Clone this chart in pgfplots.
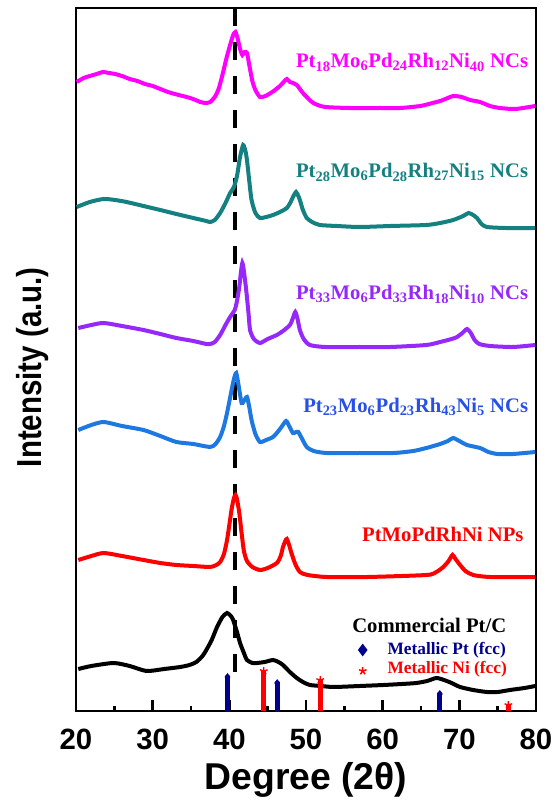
\documentclass[border=0pt]{standalone}
\usepackage{fontspec}
\setmainfont{Liberation Serif}
\setsansfont{Liberation Sans}
\usepackage{pgfplots}
\pgfplotsset{compat=1.18}
\definecolor{magC}{RGB}{255,0,255}
\definecolor{tealC}{RGB}{20,128,128}
\definecolor{purC}{RGB}{150,40,250}
\definecolor{bluC}{RGB}{30,120,225}
\definecolor{bluL}{RGB}{40,80,230}
\definecolor{navyC}{RGB}{0,0,140}
\definecolor{redC}{RGB}{255,0,0}
\tikzset{lbl/.style={inner sep=0pt, font=\fontsize{15.5}{18}\selectfont\bfseries},
  leg/.style={inner sep=0pt, font=\fontsize{13}{15}\selectfont\bfseries}}
\begin{document}
\begin{tikzpicture}
\begin{axis}[
  name=ax,
  width=345pt, height=527.25pt, scale only axis,
  xmin=20, xmax=80, ymin=0, ymax=703,
  xtick={20,30,...,80}, minor xtick={25,35,...,75},
  ytick=\empty,
  xtick pos=lower, tick align=inside,
  major tick length=8pt, minor tick length=4pt,
  tick style={black, line width=2pt},
  axis line style={line width=2.2pt},
  /pgf/number format/assume math mode=true,
  tick label style={font=\sffamily\bfseries\fontsize{22}{22}\selectfont},
  xticklabel style={yshift=-10pt},
  xlabel={\sffamily\bfseries\fontsize{28}{28}\selectfont Degree (2θ)},
  xlabel style={at={(axis description cs:0.5,0)}, anchor=base, yshift=-59pt},
  ylabel={\sffamily\bfseries\fontsize{26}{26}\selectfont\scalebox{0.85}[1]{Intensity (a.u.)}},
  ylabel style={at={(axis description cs:-0.0935,0.489)}, anchor=center},
  every axis plot/.append style={line width=3pt, smooth, tension=0.4},
]
% reference dashed line
\addplot[black, line width=3pt, dash pattern=on 13.5pt off 12pt, sharp plot]
  coordinates {(40.7,703) (40.7,24)};
% Pt18Mo6Pd24Rh12Ni40
\addplot[magC] coordinates {
(20.1,629)(21.0,633)(21.8,635)(22.7,637)(23.5,639)(24.3,638)(25.1,637)(26.0,635)
(27.0,632)(28.0,630)(29.0,627)(30.0,625)(31.0,622)(32.0,619)(32.9,617)(33.9,615)
(34.9,613)(35.6,611)(36.2,609)(36.9,608)(37.5,609)(38.1,614)(38.6,622)(39.1,636)
(39.6,652)(40.1,666)(40.5,676)(40.8,679)(41.1,672)(41.4,662)(41.7,656)(42.0,659)
(42.3,658)(42.6,646)(43.0,630)(43.4,621)(44.0,614)(44.7,615)(45.6,619)(46.6,625)
(47.2,630)(47.5,632)(47.9,629)(48.3,628)(48.8,626)(49.2,622)(49.7,617)(50.1,614)
(50.6,610)(51.2,607)(52.5,604)(55.7,603)(59.7,603)(62.3,603)(64.9,605)(66.5,608)
(67.5,610)(68.5,613)(69.2,615)(70.3,614)(71.4,611)(72.7,609)(74.0,605)(75.3,603)
(77.3,602)(79.9,605)};
% Pt28Mo6Pd28Rh27Ni15
\addplot[tealC] coordinates {
(20.1,504)(21.8,509)(23.6,512)(25.1,511)(26.6,509)(28.8,505)(31.0,501)(33.1,497)
(35.3,493)(37.0,490)(37.5,489)(38.1,491)(38.8,498)(39.5,508)(40.1,518)(40.6,524)
(41.0,535)(41.4,554)(41.8,566)(42.1,560)(42.3,551)(42.6,530)(42.9,511)(43.4,498)
(44.0,493)(44.8,494)(45.7,496)(46.6,499)(47.5,503)(48.0,509)(48.3,514)(48.7,519)
(49.0,515)(49.2,511)(49.6,501)(50.1,493)(50.8,489)(51.8,486)(54.0,485)(57.0,484)
(61.0,485)(65.7,486)(67.5,488)(69.2,491)(70.5,495)(71.2,498)(71.8,496)(72.3,493)
(72.9,487)(73.6,484)(76.0,483)(79.9,483)};
% Pt33Mo6Pd33Rh18Ni10
\addplot[purC] coordinates {
(20.3,383)(22.0,386)(23.6,388)(26.0,385)(28.8,381)(31.0,377)(33.1,373)(35.3,370)
(37.0,367)(37.5,367)(38.1,369)(38.8,376)(39.5,386)(40.1,394)(40.7,401)(41.0,410)
(41.3,424)(41.5,438)(41.7,448)(41.9,440)(42.2,421)(42.5,398)(42.7,381)(43.2,372)
(44.0,368)(45.0,372)(46.2,376)(47.0,380)(47.9,386)(48.3,393)(48.6,399)(48.9,392)
(49.2,381)(49.7,372)(50.5,366)(52.5,364)(57.0,364)(61.0,364)(65.7,366)(67.5,369)
(69.0,372)(69.7,374)(70.4,378)(71.0,382)(71.5,378)(72.0,371)(72.6,367)(74.0,365)
(77.0,364)(79.9,366)};
% Pt23Mo6Pd23Rh43Ni5
\addplot[bluC] coordinates {
(20.3,281)(22.0,286)(23.6,289)(26.0,285)(28.8,281)(31.0,275)(33.1,269)(35.3,267)
(37.5,264)(38.2,267)(38.8,274)(39.3,285)(39.7,298)(40.3,321)(40.6,332)(40.9,338)
(41.2,326)(41.6,308)(41.9,310)(42.3,314)(42.6,304)(42.9,291)(43.4,277)(44.0,269)
(44.8,271)(45.7,274)(46.3,279)(46.8,284)(47.4,290)(47.8,285)(48.3,278)(48.7,279)
(49.0,279)(49.5,272)(50.1,264)(51.0,260)(52.7,258)(57.0,258)(61.4,258)(64.0,260)
(65.7,263)(67.5,267)(68.5,270)(69.2,273)(70.0,270)(71.0,266)(72.7,263)(73.8,259)
(75.0,257)(77.0,257)(79.9,259)};
% PtMoPdRhNi NPs
\addplot[redC] coordinates {
(20.3,151)(22.0,155)(23.6,158)(26.0,155)(28.8,151)(31.0,148)(33.1,146)(35.3,145)
(37.5,144)(38.3,146)(38.8,149)(39.3,157)(39.7,171)(40.0,186)(40.3,202)(40.6,213)
(40.8,216)(41.0,212)(41.3,198)(41.6,178)(41.9,160)(42.3,150)(43.0,144)(44.0,141)
(45.0,143)(46.2,148)(46.7,155)(47.0,164)(47.3,170)(47.5,172)(47.8,166)(48.1,158)
(48.6,147)(49.2,139)(50.2,136)(52.7,134)(58.0,134)(65.7,136)(67.0,139)(67.9,144)
(68.6,150)(69.1,156)(69.5,152)(70.1,146)(70.8,140)(71.8,136)(74.0,134)(79.9,134)};
% Commercial Pt/C
\addplot[black] coordinates {
(20.3,42)(22.0,45)(24.9,48)(27.0,45)(29.2,40)(31.5,42)(33.6,44)(34.8,46)
(35.7,49)(36.5,55)(37.0,61)(37.7,71)(38.4,84)(39.1,94)(39.7,98)(40.2,95)
(40.5,91)(41.0,79)(41.4,68)(41.9,58)(42.3,51)(43.0,48)(43.6,48)(44.6,49)
(45.7,51)(46.4,49)(47.0,46)(47.9,39)(48.8,33)(49.6,29)(50.5,26)(52.0,25)
(53.6,24)(57.0,25)(60.1,26)(62.5,27)(64.4,28)(65.8,30)(67.0,33)(68.0,31)
(69.0,28)(70.1,24)(71.8,21)(73.6,19)(75.0,19)(76.6,21)(78.5,23)(79.9,25)};
% reference patterns: Pt (fcc) and Ni (fcc)
\addplot[navyC, ycomb, line width=3.8pt, line cap=round, mark=diamond*, mark size=2.5pt,
  mark options={line width=0.5pt}]
  coordinates {(39.76,34)(46.24,28)(67.45,17)};
\addplot[redC, ycomb, line width=3.8pt, mark=star, mark size=3pt,
  mark options={line width=1pt}]
  coordinates {(44.5,40)(51.85,31)(76.4,6)};
% key symbols
\addplot[navyC, only marks, mark=diamond*, mark size=2.3pt] coordinates {(57.4,61)};
\addplot[redC, only marks, mark=star, mark size=3pt, mark options={line width=1.1pt}]
  coordinates {(57.4,40)};
% labels
\node[lbl, anchor=base east, magC] at (axis cs:79.0,643)
  {Pt\textsubscript{18}Mo\textsubscript{6}Pd\textsubscript{24}Rh\textsubscript{12}Ni\textsubscript{40} NCs};
\node[lbl, anchor=base east, tealC] at (axis cs:79.0,533)
  {Pt\textsubscript{28}Mo\textsubscript{6}Pd\textsubscript{28}Rh\textsubscript{27}Ni\textsubscript{15} NCs};
\node[lbl, anchor=base east, purC] at (axis cs:79.0,411)
  {Pt\textsubscript{33}Mo\textsubscript{6}Pd\textsubscript{33}Rh\textsubscript{18}Ni\textsubscript{10} NCs};
\node[lbl, anchor=base east, bluL] at (axis cs:79.0,298)
  {Pt\textsubscript{23}Mo\textsubscript{6}Pd\textsubscript{23}Rh\textsubscript{43}Ni\textsubscript{5} NCs};
\node[lbl, anchor=base east, redC] at (axis cs:78.4,169)
  {PtMoPdRhNi NPs};
\node[lbl, anchor=base west, black] at (axis cs:56.0,79)
  {Commercial Pt/C};
\node[leg, anchor=base west, navyC] at (axis cs:60.6,56) {Metallic Pt (fcc)};
\node[leg, anchor=base west, redC] at (axis cs:60.6,37) {Metallic Ni (fcc)};
\end{axis}
\pgfresetboundingbox
\path ([xshift=-57pt, yshift=-67.5pt]ax.south west) rectangle ([xshift=13.5pt, yshift=6pt]ax.north east);
\end{tikzpicture}
\end{document}
